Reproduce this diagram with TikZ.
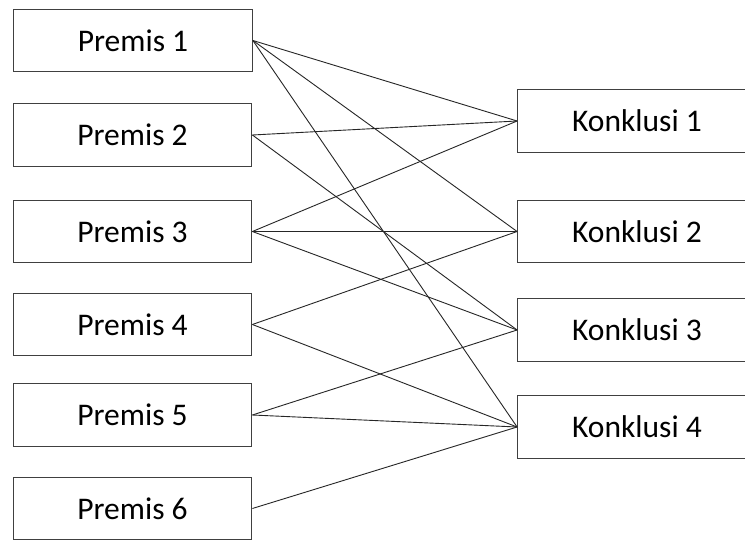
\documentclass[tikz,border=0pt]{standalone}
\usepackage{fontspec}
\setmainfont{Carlito}
\begin{document}
\begin{tikzpicture}[x=1pt,y=-1pt,
  box/.style={draw=black!75, line width=1.3pt, minimum width=238.5pt, minimum height=62.5pt, inner sep=0pt, font=\fontsize{31.5}{36}\selectfont},
  link/.style={line width=0.9pt, draw=black!85}]
\useasboundingbox (0,0) rectangle (745,540);
\clip (0,0) rectangle (745,540);
\fill[white] (0,0) rectangle (745,540);
\node[box] (p1) at (133,40.5) {Premis 1};
\node[box] (p2) at (132.5,135) {Premis 2};
\node[box] (p3) at (132.5,231.5) {Premis 3};
\node[box] (p4) at (132.5,324.5) {Premis 4};
\node[box] (p5) at (132.5,415) {Premis 5};
\node[box] (p6) at (132.5,508.5) {Premis 6};
\node[box] (k1) at (637,121) {Konklusi 1};
\node[box] (k2) at (637,231.5) {Konklusi 2};
\node[box] (k3) at (637,330) {Konklusi 3};
\node[box] (k4) at (637,427) {Konklusi 4};
\draw[link] (p1.east) -- (k1.west);
\draw[link] (p1.east) -- (k2.west);
\draw[link] (p1.east) -- (k4.west);
\draw[link] (p2.east) -- (k1.west);
\draw[link] (p2.east) -- (k3.west);
\draw[link] (p3.east) -- (k1.west);
\draw[link] (p3.east) -- (k2.west);
\draw[link] (p3.east) -- (k3.west);
\draw[link] (p4.east) -- (k2.west);
\draw[link] (p4.east) -- (k4.west);
\draw[link] (p5.east) -- (k3.west);
\draw[link] (p5.east) -- (k4.west);
\draw[link] (p6.east) -- (k4.west);
\end{tikzpicture}
\end{document}
